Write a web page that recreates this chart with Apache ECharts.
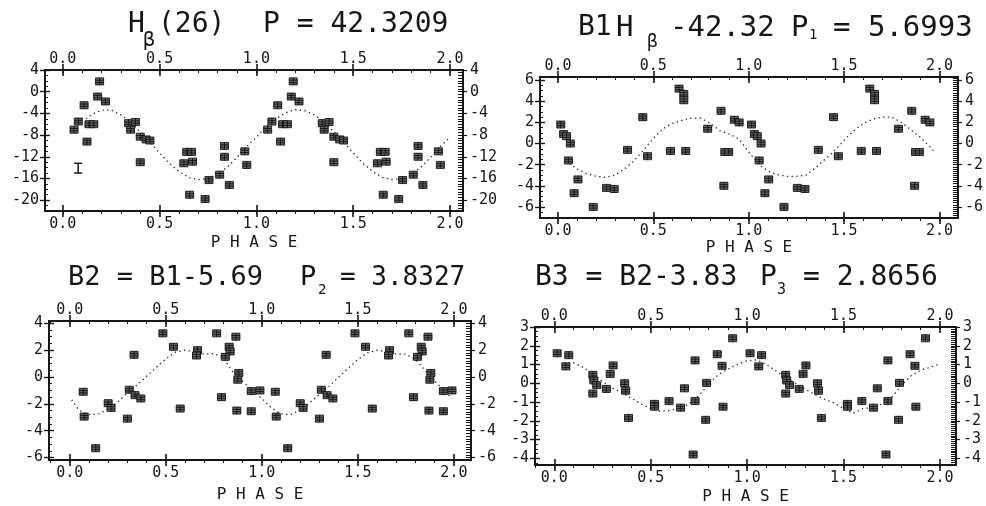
<!DOCTYPE html>
<html>
<head>
<meta charset="utf-8">
<script src="https://cdn.jsdelivr.net/npm/echarts@6/dist/echarts.min.js"></script>
<style>
  html, body { margin: 0; padding: 0; background: #ffffff; }
  #chart { width: 986px; height: 506px; }
</style>
</head>
<body>
<div id="chart"></div>
<script>
// ---- shared phase axis ----
const phaseTicks = [0, 0.5, 1, 1.5, 2];
const phaseTickLabels = ['0.0', '0.5', '1.0', '1.5', '2.0'];

// ---- Hβ(26), P = 42.3209 : one cycle of folded observations ----
const hbPhase = [0.058, 0.08, 0.135, 0.16, 0.11, 0.125, 0.19, 0.18, 0.22, 0.34, 0.375, 0.35, 0.40, 0.43, 0.45, 0.40,
                 0.64, 0.665, 0.625, 0.67, 0.655, 0.735, 0.755, 0.81, 0.86, 0.835, 0.835, 0.94, 0.95];
const hbValue = [-7.0, -5.5, -6.0, -6.0, -2.5, -9.2, 1.9, -0.9, -1.8, -5.8, -5.6, -7.0, -8.3, -8.8, -9.0, -13.0,
                 -11.1, -11.1, -13.2, -12.9, -19.0, -19.8, -16.3, -15.3, -17.2, -10.0, -12.0, -11.0, -13.5];
const hbFitPhase = [0.12, 0.15, 0.2, 0.25, 0.3, 0.35, 0.4, 0.45, 0.5, 0.55, 0.6, 0.65, 0.7, 0.75, 0.8, 0.85, 0.9, 0.95,
                    1.0, 1.05, 1.1, 1.15, 1.2, 1.25, 1.3, 1.35, 1.4, 1.45, 1.5, 1.55, 1.6, 1.65, 1.7, 1.75, 1.8, 1.85, 1.9, 1.95, 2.0];
const hbFitValue = [-5.0, -4.2, -3.4, -3.4, -4.3, -5.6, -7.4, -9.3, -11.3, -13.2, -14.7, -15.8, -16.2, -16.0, -15.2, -13.9, -12.1, -10.1,
                    -8.4, -6.5, -5.0, -3.9, -3.3, -3.5, -4.3, -5.6, -7.4, -9.3, -11.3, -13.2, -14.7, -15.8, -16.2, -16.0, -15.2, -13.9, -12.1, -10.1, -8.4];
const hbErrPhase = [0.079];
const hbErrLow = [-15.0];
const hbErrHigh = [-13.2];
const hbTicks = [4, 0, -4, -8, -12, -16, -20];
const hbTickLabels = ['4', '0', '-4', '-8', '-12', '-16', '-20'];

// ---- B1 = Hβ − 42.32, P1 = 5.6993 ----
const b1Phase = [0.015, 0.03, 0.045, 0.065, 0.055, 0.105, 0.085, 0.185, 0.255, 0.295, 0.365, 0.445, 0.47,
                 0.59, 0.67, 0.635, 0.66, 0.66, 0.785, 0.855, 0.875, 0.895, 0.87, 0.925, 0.95];
const b1Value = [1.8, 0.9, 0.7, 0.0, -1.6, -3.4, -4.7, -6.0, -4.2, -4.3, -0.6, 2.5, -1.2,
                 -0.7, -0.7, 5.2, 4.7, 4.1, 1.4, 3.1, -0.8, -0.8, -4.0, 2.25, 2.0];
const b1FitPhase = [0.06, 0.1, 0.15, 0.2, 0.25, 0.3, 0.35, 0.4, 0.45, 0.5, 0.55, 0.6, 0.65, 0.7, 0.75, 0.8, 0.85, 0.9, 0.95,
                    1.0, 1.05, 1.1, 1.15, 1.2, 1.25, 1.3, 1.35, 1.4, 1.45, 1.5, 1.55, 1.6, 1.65, 1.7, 1.75, 1.8, 1.85, 1.9, 1.95, 1.98];
const b1FitValue = [-1.9, -2.4, -2.85, -3.1, -3.2, -3.0, -2.4, -1.6, -0.6, 0.5, 1.4, 1.9, 2.2, 2.4, 2.4, 1.9, 1.2, 0.9, 0.4,
                    -0.8, -1.9, -2.6, -2.95, -3.1, -3.1, -3.0, -2.3, -1.5, -0.7, 0.3, 1.2, 1.9, 2.3, 2.5, 2.5, 2.0, 1.3, 0.6, -0.3, -0.9];
const b1Ticks = [6, 4, 2, 0, -2, -4, -6];
const b1TickLabels = ['6', '4', '2', '0', '-2', '-4', '-6'];

// ---- B2 = B1 − 5.69, P2 = 3.8327 ----
const b2Phase = [0.07, 0.075, 0.135, 0.2, 0.215, 0.3, 0.335, 0.31, 0.34, 0.37, 0.485, 0.54, 0.575, 0.665,
                 0.66, 0.765, 0.79, 0.865, 0.83, 0.835, 0.81, 0.88, 0.875, 0.87, 0.945, 0.945, 0.99];
const b2Value = [-1.1, -2.95, -5.3, -1.95, -2.3, -3.1, 1.65, -0.95, -1.35, -1.6, 3.25, 2.25, -2.35, 2.0,
                 1.6, 3.25, -1.5, 3.0, 2.25, 1.9, 1.5, 0.3, -0.2, -2.5, -2.55, -1.05, -1.0];
const b2FitPhase = [0.01, 0.05, 0.1, 0.15, 0.2, 0.25, 0.3, 0.35, 0.4, 0.45, 0.5, 0.55, 0.6, 0.65, 0.7, 0.75, 0.8, 0.85, 0.9, 0.95,
                    1.0, 1.05, 1.1, 1.15, 1.2, 1.25, 1.3, 1.35, 1.4, 1.45, 1.5, 1.55, 1.6, 1.65, 1.7, 1.75, 1.8, 1.85, 1.9, 1.95, 1.99];
const b2FitValue = [-1.7, -2.5, -2.8, -2.75, -2.4, -1.85, -1.2, -0.6, 0.05, 0.7, 1.35, 1.85, 2.0, 1.85, 1.7, 1.75, 1.4, 0.35, -0.3, -1.0,
                    -1.6, -2.3, -2.75, -2.8, -2.45, -1.9, -1.3, -0.7, 0.0, 0.65, 1.3, 1.8, 2.0, 1.85, 1.7, 1.7, 1.3, 0.5, -0.3, -1.0, -1.6];
const b2Ticks = [4, 2, 0, -2, -4, -6];
const b2TickLabels = ['4', '2', '0', '-2', '-4', '-6'];

// ---- B3 = B2 − 3.83, P3 = 2.8656 ----
const b3Phase = [0.015, 0.075, 0.06, 0.2, 0.205, 0.22, 0.2, 0.27, 0.29, 0.305, 0.365, 0.37, 0.385, 0.52,
                 0.52, 0.595, 0.655, 0.675, 0.73, 0.73, 0.72, 0.79, 0.785, 0.845, 0.87, 0.875, 0.925];
const b3Value = [1.6, 1.5, 0.9, 0.45, 0.15, -0.1, -0.55, -0.3, 0.5, 0.95, 0.0, -0.4, -1.85, -1.1,
                 -1.25, -0.95, -1.3, -0.27, 1.22, -0.95, -3.8, 0.02, -1.95, 1.55, 0.93, -1.25, 2.4];
const b3FitPhase = [0.05, 0.1, 0.15, 0.2, 0.25, 0.3, 0.35, 0.4, 0.45, 0.5, 0.55, 0.6, 0.65, 0.7, 0.75, 0.8, 0.85, 0.9, 0.95,
                    1.0, 1.05, 1.1, 1.15, 1.2, 1.25, 1.3, 1.35, 1.4, 1.45, 1.5, 1.55, 1.6, 1.65, 1.7, 1.75, 1.8, 1.85, 1.9, 1.95, 2.0];
const b3FitValue = [1.1, 1.1, 0.85, 0.5, 0.1, -0.25, -0.5, -0.8, -1.1, -1.35, -1.5, -1.45, -1.35, -1.1, -0.65, -0.05, 0.45, 0.75, 1.0,
                    1.2, 1.25, 1.0, 0.65, 0.3, 0.0, -0.3, -0.6, -0.85, -1.05, -1.35, -1.6, -1.35, -1.3, -1.1, -0.75, -0.1, 0.4, 0.7, 0.85, 1.05];
const b3Ticks = [3, 2, 1, 0, -1, -2, -3, -4];
const b3TickLabels = ['3', '2', '1', '0', '-1', '-2', '-3', '-4'];

// ---- styling ----
const FONT = "'DejaVu Sans Mono', 'Liberation Mono', monospace";
const INK = '#161616';
const BOX_SYMBOL = 'path://M0,0L10,0L10,9L0,9Z M0,3L10,3 M0,6L10,6 M5,0L5,9';

// tick positions between two limits at a fixed step
function steps(from, to, step) {
  const out = [];
  const n0 = Math.ceil(from / step - 1e-9), n1 = Math.floor(to / step + 1e-9);
  for (let n = n0; n <= n1; n++) out.push(+(n * step).toFixed(4));
  return out;
}
// folded light curve drawn over two cycles
function twoCycles(phase, value) {
  const out = [];
  phase.forEach((p, i) => { out.push([p, value[i]]); out.push([p + 1, value[i]]); });
  return out;
}

const panels = [
  { box: [45, 70, 463, 211], x: [-0.092, 2.067], y: [-22, 4], ticks: hbTicks, labels: hbTickLabels,
    minorL: 1, minorR: 0.5, phase: hbPhase, value: hbValue, fitPhase: hbFitPhase, fitValue: hbFitValue, nameGap: 24 },
  { box: [540, 77, 962, 218], x: [-0.094, 2.097], y: [-7.05, 6.3], ticks: b1Ticks, labels: b1TickLabels,
    minorL: 0.5, minorR: 0.2, phase: b1Phase, value: b1Value, fitPhase: b1FitPhase, fitValue: b1FitValue, nameGap: 22 },
  { box: [49, 321, 471, 460], x: [-0.108, 2.089], y: [-6.18, 4.17], ticks: b2Ticks, labels: b2TickLabels,
    minorL: 0.5, minorR: 0.2, phase: b2Phase, value: b2Value, fitPhase: b2FitPhase, fitValue: b2FitValue, nameGap: 27 },
  { box: [535, 327, 956, 465], x: [-0.1, 2.083], y: [-4.36, 3], ticks: b3Ticks, labels: b3TickLabels,
    minorL: 0.25, minorR: 0.1, phase: b3Phase, value: b3Value, fitPhase: b3FitPhase, fitValue: b3FitValue, nameGap: 24 }
];

const grid = [], xAxis = [], yAxis = [], series = [];
const labelStyle = { fontFamily: FONT, fontSize: 15, color: INK };
const tickLine = (w) => ({ color: INK, width: w });

panels.forEach((p, gi) => {
  const [l, t, r, b] = p.box;
  grid.push({ left: l, top: t, width: r - l, height: b - t, show: true,
              borderColor: INK, borderWidth: 2, backgroundColor: 'transparent' });

  const xBase = { gridIndex: gi, type: 'value', min: p.x[0], max: p.x[1],
                  axisLine: { show: false, onZero: false }, splitLine: { show: false } };
  const xMain = xAxis.length;
  ['bottom', 'top'].forEach(pos => {
    const labelled = {
      ...xBase, position: pos,
      axisTick: { customValues: phaseTicks, length: 6, lineStyle: tickLine(1.6) },
      axisLabel: { customValues: phaseTicks, ...labelStyle, margin: pos === 'bottom' ? 6 : 3,
                   formatter: v => phaseTickLabels[phaseTicks.indexOf(v)] }
    };
    if (pos === 'bottom') {
      labelled.name = '{l|P}{l|H}{l|A}{l|S}{l|E}';
      labelled.nameLocation = 'middle';
      labelled.nameGap = p.nameGap;
      labelled.nameTextStyle = { fontFamily: FONT, fontSize: 16, color: INK, verticalAlign: 'top',
        rich: { l: { fontFamily: FONT, fontSize: 16, color: INK, padding: [0, 4.8, 0, 4.8] } } };
    }
    xAxis.push(labelled);
    xAxis.push({ ...xBase, position: pos, axisLabel: { show: false },
                 axisTick: { inside: true, customValues: phaseTicks, length: 6, lineStyle: tickLine(1.6) } });
    xAxis.push({ ...xBase, position: pos, axisLabel: { show: false },
                 axisTick: { inside: pos === 'top', customValues: steps(p.x[0], p.x[1], 0.1), length: 3, lineStyle: tickLine(1) } });
  });

  const yBase = { gridIndex: gi, type: 'value', min: p.y[0], max: p.y[1],
                  axisLine: { show: false, onZero: false }, splitLine: { show: false } };
  const yMain = yAxis.length;
  const fmt = v => p.labels[p.ticks.indexOf(v)];
  yAxis.push({ ...yBase, position: 'left',
               axisTick: { customValues: p.ticks, length: 5, lineStyle: tickLine(1.4) },
               axisLabel: { customValues: p.ticks, ...labelStyle, margin: 6, formatter: fmt } });
  yAxis.push({ ...yBase, position: 'left', axisLabel: { show: false },
               axisTick: { inside: true, customValues: p.ticks, length: 5, lineStyle: tickLine(1.4) } });
  yAxis.push({ ...yBase, position: 'left', axisLabel: { show: false },
               axisTick: { inside: true, customValues: steps(p.y[0], p.y[1], p.minorL), length: 3, lineStyle: tickLine(1) } });
  yAxis.push({ ...yBase, position: 'right',
               axisTick: { customValues: p.ticks, length: 4, lineStyle: tickLine(1.2) },
               axisLabel: { customValues: p.ticks, ...labelStyle, margin: 7, formatter: fmt } });
  yAxis.push({ ...yBase, position: 'right', axisLabel: { show: false },
               axisTick: { inside: true, customValues: steps(p.y[0], p.y[1], p.minorR), length: 5, lineStyle: tickLine(1) } });

  // fitted curve, dotted
  series.push({
    type: 'line', xAxisIndex: xMain, yAxisIndex: yMain, silent: true, showSymbol: false, z: 2,
    data: p.fitPhase.map((ph, i) => [ph, p.fitValue[i]]),
    lineStyle: { color: '#222', width: 1.3, type: [1.3, 3.4] }
  });
  // observations, repeated over the second cycle
  series.push({
    type: 'scatter', xAxisIndex: xMain, yAxisIndex: yMain, z: 3,
    symbol: BOX_SYMBOL, symbolSize: [8, 7],
    itemStyle: { color: '#666666', borderColor: '#111', borderWidth: 0.9, opacity: 1 },
    data: twoCycles(p.phase, p.value)
  });
  if (gi === 0) {
    // typical error bar
    series.push({
      type: 'custom', xAxisIndex: xMain, yAxisIndex: yMain, z: 3,
      data: hbErrPhase.map((ph, i) => [ph, hbErrLow[i], hbErrHigh[i]]),
      renderItem: (params, api) => {
        const lo = api.coord([api.value(0), api.value(1)]);
        const hi = api.coord([api.value(0), api.value(2)]);
        const st = { stroke: INK, lineWidth: 1.5 };
        return { type: 'group', children: [
          { type: 'line', shape: { x1: lo[0], y1: lo[1], x2: hi[0], y2: hi[1] }, style: st },
          { type: 'line', shape: { x1: lo[0] - 4, y1: lo[1], x2: lo[0] + 4, y2: lo[1] }, style: st },
          { type: 'line', shape: { x1: hi[0] - 4, y1: hi[1], x2: hi[0] + 4, y2: hi[1] }, style: st }
        ] };
      }
    });
  }
});

// panel headings: [text, left, vertical centre, font size]
const headings = [
  ['H', 128, 25, 28], ['β', 143, 41, 20], ['(26)', 158, 25, 28], ['P = 42.3209', 263, 25, 28],
  ['B1', 578, 28, 28], ['H', 616, 28, 29], ['β', 647, 42, 18], ['-42.32', 670, 28, 29],
  ['P', 791, 28, 29], ['1', 809, 35, 14], ['= 5.6993', 833, 28, 29],
  ['B2 = B1-5.69', 68, 278, 27], ['P', 300, 278, 27], ['2', 318, 290, 14], ['= 3.8327', 340, 278, 26],
  ['B3 = B2-3.83', 535, 278, 28], ['P', 760, 278, 28], ['3', 777, 290, 15], ['= 2.8656', 803, 278, 28]
];

const chart = echarts.init(document.getElementById('chart'), null, { renderer: 'canvas' });
chart.setOption({
  animation: false,
  backgroundColor: '#ffffff',
  grid, xAxis, yAxis, series,
  graphic: headings.map(([text, x, y, size]) => ({
    type: 'text', silent: true,
    // a thin white outline drawn over the fill gives the light pen-plotter stroke
    style: { text, x, y, fontFamily: FONT, fontSize: size, fill: INK, stroke: '#ffffff', lineWidth: 0.9,
             align: 'left', verticalAlign: 'middle' }
  }))
});
</script>
</body>
</html>
